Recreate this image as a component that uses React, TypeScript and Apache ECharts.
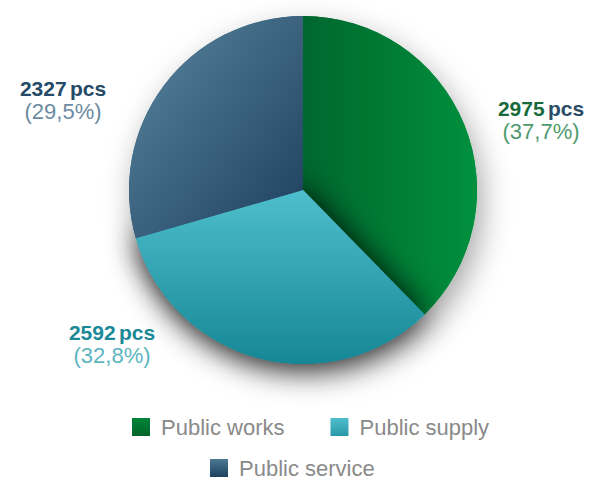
import React, { useEffect, useRef } from "react";
import * as echarts from "echarts";

const categories = ["Public works", "Public supply", "Public service"];
const values = [2975, 2592, 2327];
const unit = "pcs";

const FONT = "Liberation Sans";

const gradients = [
  new echarts.graphic.LinearGradient(0, 0, 1, 0, [
    { offset: 0, color: "#00672d" },
    { offset: 1, color: "#00903d" },
  ]),
  new echarts.graphic.LinearGradient(0, 0, 0, 1, [
    { offset: 0, color: "#4ebecd" },
    { offset: 1, color: "#168795" },
  ]),
  new echarts.graphic.LinearGradient(0, 0, 1, 1, [
    { offset: 0, color: "#5a86a0" },
    { offset: 1, color: "#1c3f5d" },
  ]),
];

const iconGradients = [
  ["#008538", "#006429"],
  ["#4fbecc", "#2a98a6"],
  ["#4d7893", "#1d4260"],
];

const labelColors = [
  { v: "#186a3b", u: "#2b4c68", p: "#4f9a6e" },
  { v: "#1b8998", u: "#1b8998", p: "#5cb5c1" },
  { v: "#234a66", u: "#234a66", p: "#6c8ba1" },
];

const labelPos = [
  [541, 120],
  [112, 344],
  [63, 100],
];

export default function App() {
  const ref = useRef<HTMLDivElement>(null);
  useEffect(() => {
    if (!ref.current) return;
    const chart = echarts.init(ref.current, null, { renderer: "svg" });
    const iconItem = (i: number) => ({
      name: categories[i],
      itemStyle: {
        color: new echarts.graphic.LinearGradient(0, 0, 0, 1, [
          { offset: 0, color: iconGradients[i][0] },
          { offset: 1, color: iconGradients[i][1] },
        ]),
      },
    });
    const legendCommon = {
      orient: "horizontal",
      padding: 0,
      itemWidth: 18,
      itemHeight: 18,
      itemGap: 46,
      icon: "rect",
      selectedMode: false,
      textStyle: {
        fontFamily: FONT,
        fontSize: 22,
        lineHeight: 22,
        color: "#8a8a8a",
        padding: [0, 0, 0, 6],
      },
    };
    chart.setOption({
      animation: false,
      backgroundColor: "#ffffff",
      legend: [
        { ...legendCommon, left: 132, top: 416, data: [iconItem(0), iconItem(1)] },
        { ...legendCommon, left: 210, top: 457, data: [iconItem(2)] },
      ],
      series: [
        {
          type: "pie",
          silent: true,
          legendHoverLink: false,
          center: [303, 190],
          radius: 174,
          startAngle: 90,
          clockwise: true,
          label: { show: false },
          labelLine: { show: false },
          itemStyle: {
            shadowBlur: 30,
            shadowOffsetX: 5,
            shadowOffsetY: 12,
            shadowColor: "rgba(0,0,0,0.35)",
          },
          data: categories.map((c, i) => ({
            name: c,
            value: values[i],
            itemStyle: { color: gradients[i] },
          })),
        },
        {
          type: "pie",
          center: [303, 190],
          radius: 174,
          startAngle: 90,
          clockwise: true,
          labelLine: { show: false },
          emphasis: { disabled: true },
          labelLayout: (params: any) => {
            const p = labelPos[params.dataIndex];
            return { x: p[0], y: p[1], align: "center", verticalAlign: "middle" };
          },
          label: {
            show: true,
            position: "outside",
            overflow: "none",
            width: 200,
            formatter: (params: any) =>
              `{v|${params.value}} {u|${unit}}\n{p|(${params.percent
                .toFixed(1)
                .replace(".", ",")}%)}`,
          },
          data: categories.map((c, i) => ({
            name: c,
            value: values[i],
            itemStyle: {
              color: gradients[i],
              shadowBlur: i === 1 ? 30 : 0,
              shadowColor: i === 1 ? "rgba(0,0,0,0.9)" : "transparent",
            },
            label: {
              align: "center",
              rich: {
                v: { fontFamily: FONT, fontWeight: "bold", fontSize: 21, color: labelColors[i].v, lineHeight: 23, align: "center" },
                u: { fontFamily: FONT, fontWeight: "bold", fontSize: 21, color: labelColors[i].u, lineHeight: 23, align: "center" },
                p: { fontFamily: FONT, fontSize: 22, color: labelColors[i].p, lineHeight: 23, align: "center" },
              },
            },
          })),
        },
      ],
    });
    return () => chart.dispose();
  }, []);
  return (
    <div
      ref={ref}
      style={{ position: "fixed", left: 0, top: 0, width: 591, height: 480 }}
    />
  );
}
